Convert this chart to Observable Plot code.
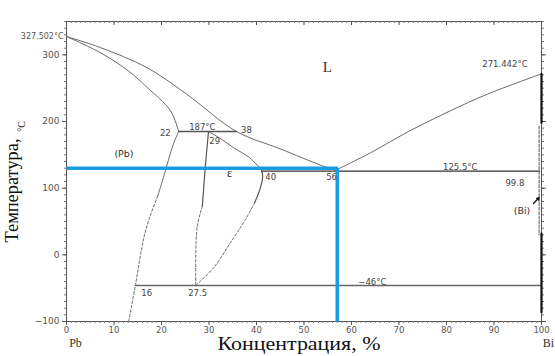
<!DOCTYPE html>
<html><head><meta charset="utf-8">
<script src="https://cdn.jsdelivr.net/npm/d3@7"></script>
<script src="https://cdn.jsdelivr.net/npm/@observablehq/plot@0.6"></script>
<style>body{margin:0;background:#fff} svg{display:block}</style>
</head><body><div id="chart"></div>
<script>
// Axis ticks
const xMajor = [0,10,20,30,40,50,60,70,80,90,100];
const yMajor = [-100,0,100,200,300];
const xMinor = d3.range(0, 101, 1);
const yMinor = d3.range(-100, 351, 10);

// Phase boundaries [concentration %, temperature °C]
const liquidusPb = [[0,327.5],[7.1,311],[16.9,281],[25.3,241],[35.8,185],[45,159],[53.7,134],[56.7,127]];
const liquidusBi = [[56.7,127],[64,153],[72,185],[80.8,216],[88.6,241],[100,271.4]];
const solidusPb = [[0,327.5],[7.2,303],[13,276],[17,251],[21.9,216],[23.6,185]];
const solvusPbSolid = [[23.6,185],[22.5,166],[20.4,116],[19.2,88]];
const solvusPbDashed = [[19.2,88],[17.6,58],[16.3,26],[14.5,-46],[13.1,-100]];
const peritectic = [[23.6,185],[35.8,185]];
const epsLeftSolid = [[29.9,185],[29.2,130],[28.6,73]];
const epsLeftDashed = [[28.6,73],[27.5,41],[27.2,-46]];
const epsSolidus = [[29.9,185],[32.5,174],[35.1,161],[38.5,146],[41,128]];
const epsRightSolid = [[41,128],[41.3,118],[40.8,100],[39.6,78]];
const epsRightDashed = [[39.6,78],[37.6,52],[35.2,26],[31,-19],[27.2,-46]];
const eutecticLine = [[41.2,125.5],[99.6,125.5]];
const eutectoidLine = [[14.5,-46],[100,-46]];
const biSolidTop = [[100,271.4],[100,198]];
const biSolidBottom = [[100,32],[100,-86]];
const biSolvus = [[99.5,193],[99.5,30]];
const guide = [[0,130],[57,130],[57,-100]];

// Labels [x, T, text]
const smallLabels = [
  [20.8,183,"22"],[28.6,191,"187°C"],[37.9,187,"38"],[31.2,171,"29"],
  [43,117,"40"],[55.8,116,"56"],[82.9,131,"125.5°C"],
  [94.4,108,"99.8"],[92.3,286,"271.442°C"],[16.9,-57,"16"],[27.6,-57,"27.5"],[64.4,-41,"−46°C"]
];

const gray = "#6a6a6a";
const curve = "catmull-rom";
const lineStyle = {stroke: gray, strokeWidth: 1, curve};
const dashStyle = {stroke: gray, strokeWidth: 1, strokeDasharray: "2.5,2", curve};

const plot = Plot.plot({
  width: 555, height: 356,
  marginLeft: 66, marginRight: 14, marginTop: 21, marginBottom: 35,
  style: {background: "#fff", fontFamily: "DejaVu Sans"},
  x: {domain: [0, 100]},
  y: {domain: [-100, 350]},
  marks: [
    Plot.frame({stroke: "#555", strokeWidth: 1}),
    // axes
    Plot.axisX(xMinor, {anchor: "bottom", tickSize: 2, stroke: "#777", fill: "none", label: null}),
    Plot.axisX(xMajor, {anchor: "bottom", tickSize: 4, tickPadding: 1, stroke: "#555", fill: "#555", fontSize: 8.5, label: null}),
    Plot.ruleX(xMinor, {x: d => d, insetBottom: 298, stroke: "#777"}),
    Plot.ruleX(xMajor, {x: d => d, insetBottom: 296, stroke: "#555"}),
    Plot.axisY(yMinor, {anchor: "left", tickSize: 2, stroke: "#777", fill: "none", label: null}),
    Plot.axisY(yMajor, {anchor: "left", tickSize: 4, tickPadding: 3, stroke: "#555", fill: "#555", fontSize: 9, label: null}),
    Plot.axisY(yMinor, {anchor: "right", tickSize: 2, stroke: "#777", fill: "none", label: null}),
    Plot.axisY(yMajor, {anchor: "right", tickSize: 4, stroke: "#555", fill: "none", label: null}),
    // phase lines
    Plot.line(liquidusPb, lineStyle),
    Plot.line(liquidusBi, lineStyle),
    Plot.line(solidusPb, lineStyle),
    Plot.line(solvusPbSolid, lineStyle),
    Plot.line(solvusPbDashed, dashStyle),
    Plot.line(peritectic, {stroke: "#555", strokeWidth: 1.3}),
    Plot.line(epsLeftSolid, {stroke: "#555", strokeWidth: 1.2, curve}),
    Plot.line(epsLeftDashed, dashStyle),
    Plot.line(epsSolidus, lineStyle),
    Plot.line(epsRightSolid, {stroke: "#555", strokeWidth: 1.2, curve}),
    Plot.line(epsRightDashed, dashStyle),
    Plot.line(eutecticLine, {stroke: "#333", strokeWidth: 1.2}),
    Plot.line(eutectoidLine, {stroke: "#666", strokeWidth: 1.6}),
    Plot.line(biSolidTop, {stroke: "#111", strokeWidth: 2.2}),
    Plot.line(biSolidBottom, {stroke: "#111", strokeWidth: 2.2}),
    Plot.line(biSolvus, {stroke: "#555", strokeWidth: 1, strokeDasharray: "3,1.5"}),
    Plot.arrow([[98.3,77,99.5,86]], {x1: d=>d[0], y1: d=>d[1], x2: d=>d[2], y2: d=>d[3], stroke: "#111", strokeWidth: 1.2, headLength: 5}),
    // blue guide
    Plot.line(guide, {stroke: "#1a9de0", strokeWidth: 3.5, strokeLinejoin: "miter", strokeLinecap: "butt"}),
    // labels
    Plot.text(smallLabels, {x: d=>d[0], y: d=>d[1], text: d=>d[2], fontSize: 8.5, fill: "#444"}),
    Plot.text(["327.502°C"], {x: 0, y: 327.5, dx: -3, textAnchor: "end", fontSize: 8, fill: "#555"}),
    Plot.text(["L"], {x: 54.9, y: 281, fontSize: 15, fontFamily: "Liberation Serif", fill: "#333"}),
    Plot.text(["ε"], {x: 34.3, y: 122, fontSize: 12, fontFamily: "Liberation Serif", fill: "#222"}),
    Plot.text(["(Pb)"], {x: 12.1, y: 151, fontSize: 9.5, fill: "#333"}),
    Plot.text(["(Bi)"], {x: 95.9, y: 66, fontSize: 9.5, fill: "#333"}),
    Plot.text(["Pb"], {x: 0, y: -100, dx: 9, dy: 22, fontSize: 12, fill: "#333", fontFamily: "Liberation Serif"}),
    Plot.text(["Bi"], {x: 100, y: -100, dx: 7, dy: 22, fontSize: 12, fill: "#333", fontFamily: "Liberation Serif"}),
    Plot.text(["Концентрация, %"], {frameAnchor: "bottom", dx: -5, dy: 28, fontSize: 18, fontFamily: "Liberation Serif", fill: "#111"}),
    Plot.text(["Температура,"], {frameAnchor: "bottom-left", dx: -49, dy: -79, rotate: -90, textAnchor: "start", fontSize: 19, fontFamily: "Liberation Serif", fill: "#111"}),
    Plot.text(["°C"], {frameAnchor: "left", dx: -45, dy: -45, rotate: -90, textAnchor: "middle", fontSize: 10, fontFamily: "Liberation Serif", fill: "#111"})
  ]
});
document.getElementById("chart").appendChild(plot);
// stretch titles to match the reference's widths
d3.select(plot).selectAll("text").each(function() {
  const t = this.textContent;
  if (t === "Концентрация, %") { this.setAttribute("textLength", 163); this.setAttribute("lengthAdjust", "spacingAndGlyphs"); }
  if (t === "Температура,") { this.setAttribute("textLength", 104); this.setAttribute("lengthAdjust", "spacingAndGlyphs"); }
});
</script>
</body></html>
